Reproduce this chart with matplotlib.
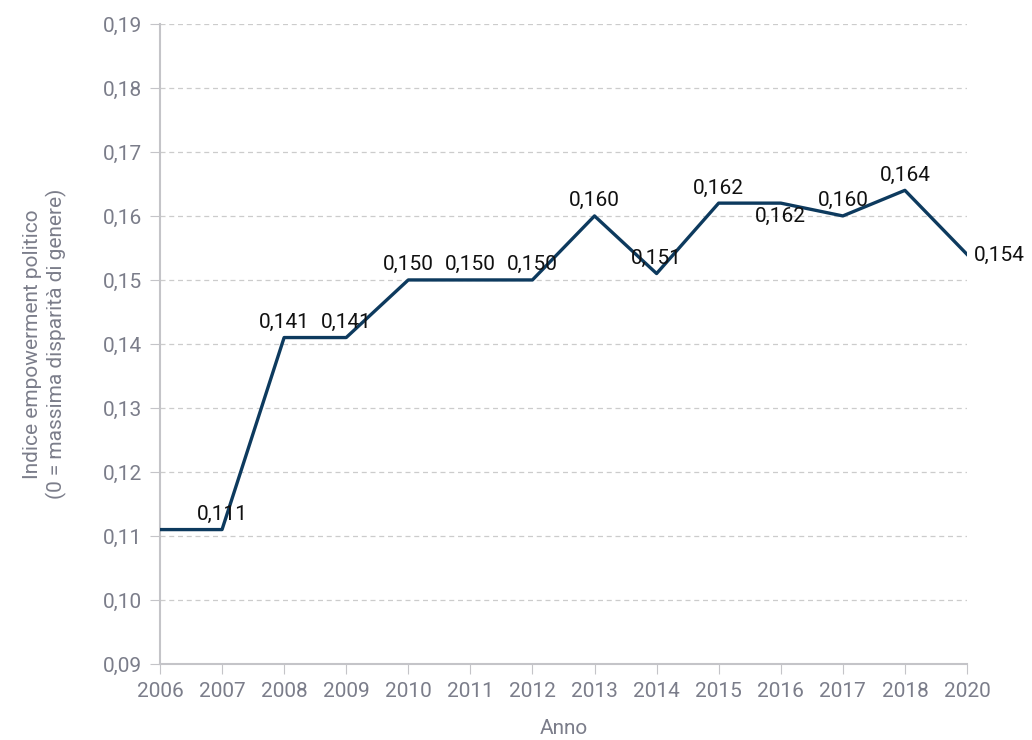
import matplotlib.pyplot as plt
import numpy as np

plt.rcParams['font.family'] = ['Roboto', 'DejaVu Sans']

years = ['2006', '2007', '2008', '2009', '2010', '2011', '2012', '2013',
         '2014', '2015', '2016', '2017', '2018', '2020']
values = [0.111, 0.111, 0.141, 0.141, 0.150, 0.150, 0.150, 0.160,
          0.151, 0.162, 0.162, 0.160, 0.164, 0.154]
# where each value label goes: None = no label
label_pos = [None, 'above', 'above', 'above', 'above', 'above', 'above', 'above',
             'above', 'above', 'below', 'above', 'above', 'right']

grey = '#7b7d8a'
line_col = '#0d3a5e'

fig = plt.figure(figsize=(10.32, 7.40), dpi=100)
ax = fig.add_axes([0.155, 0.1027, 0.782, 0.865])

x = np.arange(len(years))
ax.plot(x, values, color=line_col, lw=2.4, zorder=3)

for xi, v, pos in zip(x, values, label_pos):
    s = f'{v:.3f}'.replace('.', ',')
    if pos == 'above':
        ax.annotate(s, (xi, v), xytext=(0, 4), textcoords='offset points',
                    ha='center', va='bottom', fontsize=15, color='#111111')
    elif pos == 'below':
        ax.annotate(s, (xi, v), xytext=(0, -3), textcoords='offset points',
                    ha='center', va='top', fontsize=15, color='#111111')
    elif pos == 'right':
        ax.annotate(s, (xi, v), xytext=(5, -1), textcoords='offset points',
                    ha='left', va='center', fontsize=15, color='#111111')

ax.set_xlim(0, len(years) - 1)
ax.set_ylim(0.09, 0.19)
ax.set_xticks(x)
ax.set_xticklabels(years)
yt = np.arange(0.09, 0.1901, 0.01)
ax.set_yticks(yt)
ax.set_yticklabels([f'{t:.2f}'.replace('.', ',') for t in yt])

ax.grid(axis='y', color='#cccccc', ls=(0, (4, 3)), lw=0.9)
ax.set_axisbelow(True)
for sp in ['top', 'right']:
    ax.spines[sp].set_visible(False)
for sp in ['left', 'bottom']:
    ax.spines[sp].set_color('#c4c4c8')
    ax.spines[sp].set_linewidth(1.5)

ax.tick_params(axis='both', colors='#c4c4c8', labelcolor=grey, labelsize=15)
ax.tick_params(axis='x', length=7, pad=6)
ax.tick_params(axis='y', length=7, pad=6)

ax.set_xlabel('Anno', color=grey, fontsize=15, labelpad=13)
ax.set_ylabel('Indice empowerment politico\n(0 = massima disparità di genere)',
              color=grey, fontsize=15, labelpad=26)

fig.savefig('out.png', dpi=100)
